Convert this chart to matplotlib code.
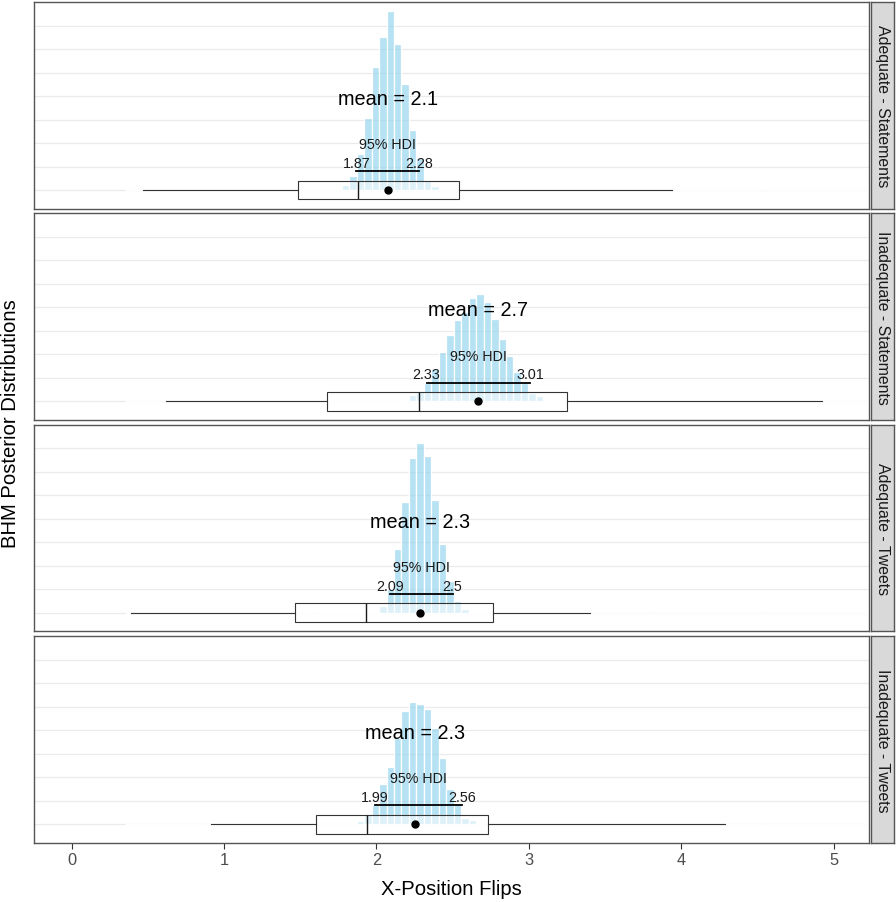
import numpy as np
import matplotlib
matplotlib.use("Agg")
import matplotlib.pyplot as plt

plt.rcParams['font.family'] = ['Liberation Sans', 'DejaVu Sans']

# facetas, de arriba hacia abajo
grupos = ['Adequate - Statements', 'Inadequate - Statements',
          'Adequate - Tweets', 'Inadequate - Tweets']

# resumen de la posterior (media y HDI 95%)
medias = [2.079, 2.667, 2.287, 2.257]
hdi_bajo = [1.87, 2.33, 2.09, 1.99]
hdi_alto = [2.28, 3.01, 2.5, 2.56]

# boxplot de los datos crudos
bigote_bajo = [0.467, 0.618, 0.390, 0.916]
cuartil_1 = [1.484, 1.674, 1.466, 1.604]
mediana = [1.882, 2.280, 1.933, 1.941]
cuartil_3 = [2.541, 3.249, 2.764, 2.735]
bigote_alto = [3.940, 4.925, 3.400, 4.286]

# histograma de la posterior: bins comunes, alturas
bin_inicio = 0.352
bin_ancho = 0.049
bin_fin = 5.35
primer_bin = [29, 36, 33, 30]
alturas = [
    [0.22, 0.61, 1.53, 3.05, 5.22, 6.50, 7.60, 6.23, 4.49, 2.56, 1.36, 0.39, 0.17],
    [0.02, 0.06, 0.26, 0.43, 0.80, 1.37, 2.09, 2.83, 3.45, 3.81, 4.42, 4.59,
     4.21, 3.52, 2.66, 1.94, 1.24, 0.80, 0.37, 0.23, 0.05, 0.05],
    [0.04, 0.31, 1.02, 2.72, 4.71, 6.58, 7.23, 6.69, 4.81, 2.94, 1.36, 0.52, 0.17, 0.03],
    [0.05, 0.12, 0.38, 0.81, 1.70, 2.43, 3.66, 4.82, 5.18, 5.11, 4.89, 4.09,
     2.81, 1.49, 0.89, 0.26, 0.17, 0.05],
]

xticks = [0, 1, 2, 3, 4, 5]

# ---- layout en pixeles ----
W, H = 896, 903
px_izq, px_der = 34, 869
strip_izq, strip_der = 871, 894
tops = [3, 214.4, 425.8, 637.2]
alto_panel = 206.5
base_px = 188.0      # linea base medida desde el borde superior del panel
px_por_unidad = 23.5
x0_px, px_por_x = 71.5, 152.4

xlim = ((px_izq - x0_px) / px_por_x, (px_der - x0_px) / px_por_x)
ylim = (-(alto_panel - base_px) / px_por_unidad, base_px / px_por_unidad)

AZUL = (0.53, 0.81, 0.92, 0.6)
BORDE = '#555555'
LINEA = '#333333'

fig = plt.figure(figsize=(W / 100, H / 100), dpi=100)

edges = np.arange(bin_inicio, bin_fin, bin_ancho)

for i, g in enumerate(grupos):
    bottom = 1 - (tops[i] + alto_panel) / H
    ax = fig.add_axes([px_izq / W, bottom, (px_der - px_izq) / W, alto_panel / H])
    ax.set_xlim(*xlim)
    ax.set_ylim(*ylim)

    # grilla horizontal clarita
    ax.set_yticks(range(8))
    ax.yaxis.grid(True, color='#EBEBEB', lw=0.9, zorder=0)
    ax.set_axisbelow(True)
    ax.tick_params(axis='y', left=False, labelleft=False)

    # histograma (los bins en cero dejan una linea blanca sobre la grilla)
    conteos = np.zeros(len(edges))
    k = primer_bin[i]
    conteos[k:k + len(alturas[i])] = alturas[i]
    ax.bar(edges, conteos, width=bin_ancho, align='edge', color=AZUL,
           edgecolor='white', linewidth=0.9, zorder=2)

    # boxplot horizontal
    stats = [dict(whislo=bigote_bajo[i], q1=cuartil_1[i], med=mediana[i],
                  q3=cuartil_3[i], whishi=bigote_alto[i], fliers=[])]
    ax.bxp(stats, positions=[0], widths=0.8, orientation='horizontal',
           patch_artist=True, showfliers=False, showcaps=False,
           boxprops=dict(facecolor=(1, 1, 1, 0.55), edgecolor=LINEA, lw=0.8),
           whiskerprops=dict(color=LINEA, lw=0.8),
           medianprops=dict(color='#1a1a1a', lw=1.0), manage_ticks=False,
           zorder=3)

    # media
    ax.plot(medias[i], 0, 'o', color='black', ms=5, zorder=5)

    # HDI
    ax.plot([hdi_bajo[i], hdi_alto[i]], [0.8, 0.8], color='black', lw=1.3, zorder=4)
    ax.text(hdi_bajo[i], 1.15, f'{hdi_bajo[i]:g}', ha='center', va='center',
            fontsize=10.3, color='#1a1a1a', zorder=5)
    ax.text(hdi_alto[i], 1.15, f'{hdi_alto[i]:g}', ha='center', va='center',
            fontsize=10.3, color='#1a1a1a', zorder=5)
    ax.text((hdi_bajo[i] + hdi_alto[i]) / 2, 1.95, '95% HDI', ha='center',
            va='center', fontsize=10.3, color='#1a1a1a', zorder=5)
    ax.text(medias[i], 3.9, f'mean = {medias[i]:.1f}', ha='center', va='center',
            fontsize=14.3, color='black', zorder=5)

    for s in ax.spines.values():
        s.set_color(BORDE)
        s.set_linewidth(1.0)

    ax.set_xticks(xticks)
    if i == len(grupos) - 1:
        ax.tick_params(axis='x', length=4, color=LINEA, labelsize=11.8,
                       labelcolor='#4D4D4D', pad=3)
    else:
        ax.tick_params(axis='x', bottom=False, labelbottom=False)

    # strip de la derecha
    sax = fig.add_axes([strip_izq / W, bottom, (strip_der - strip_izq) / W, alto_panel / H])
    sax.set_facecolor('#D9D9D9')
    sax.set_xticks([])
    sax.set_yticks([])
    for s in sax.spines.values():
        s.set_color(BORDE)
        s.set_linewidth(1.0)
    sax.text(0.5, 0.5, g, rotation=-90, ha='center', va='center',
             fontsize=11.4, color='#1a1a1a', transform=sax.transAxes)

# titulos de ejes
fig.text((px_izq + px_der) / 2 / W, 1 - 890 / H, 'X-Position Flips',
         ha='center', va='center', fontsize=14.6, color='black')
fig.text(11 / W, 1 - (tops[0] + tops[-1] + alto_panel) / 2 / H,
         'BHM Posterior Distributions', rotation=90, ha='center', va='center',
         fontsize=14.6, color='black')

plt.savefig('out.png', dpi=100)
